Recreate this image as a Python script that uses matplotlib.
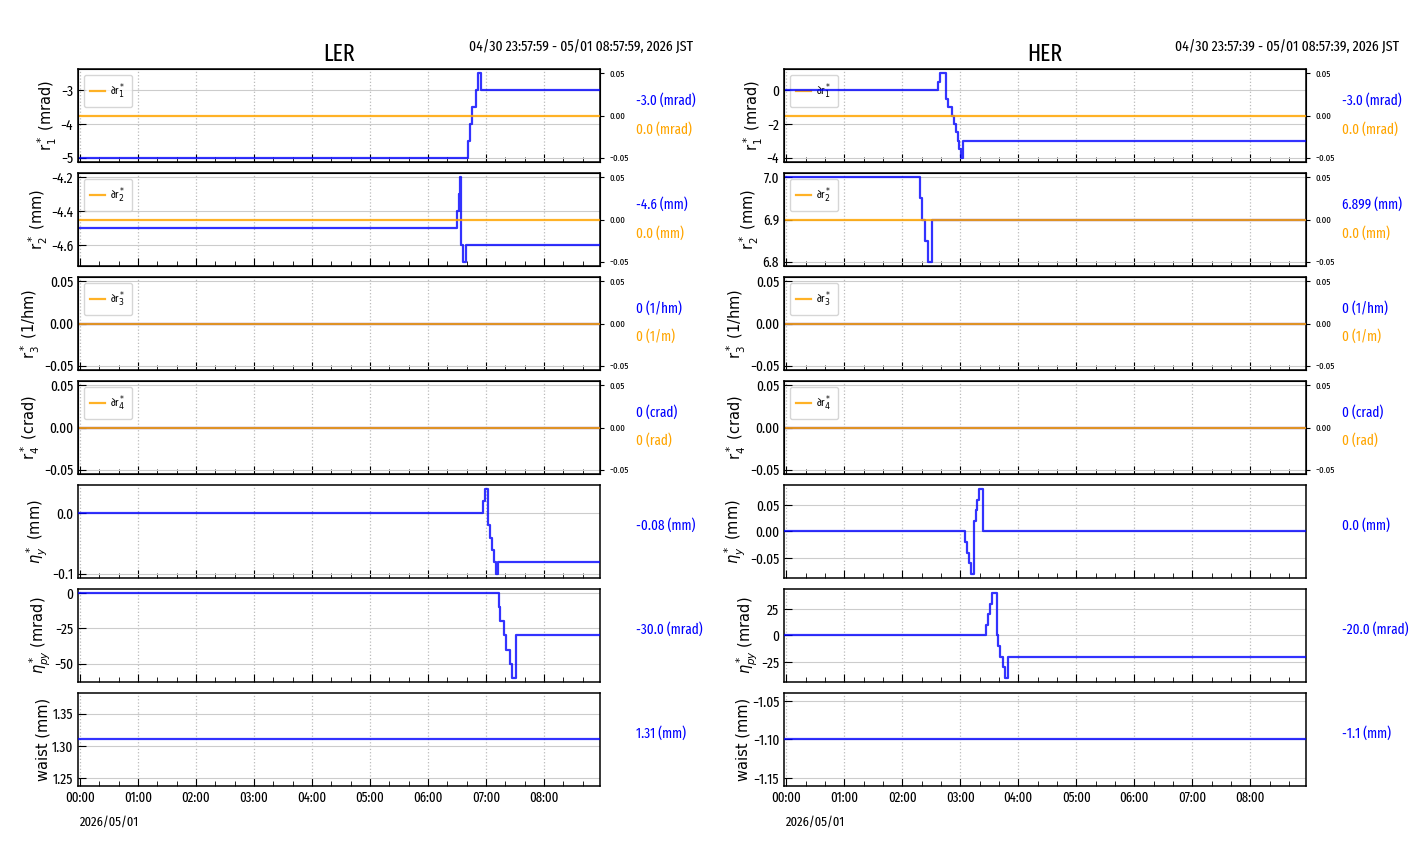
"""LER / HER tuning knob history (r1*-r4*, eta_y*, eta_py*, waist) – 9 h window."""

import pandas as pd
import matplotlib
matplotlib.use("Agg")
import matplotlib.pyplot as plt
import matplotlib.dates as mdates
from matplotlib.ticker import MaxNLocator

# the source image is horizontally squeezed, so a condensed face fits best
plt.rcParams["font.family"] = ["Fira Sans Extra Condensed", "DejaVu Sans"]
plt.rcParams["axes.unicode_minus"] = True

DAY = pd.Timestamp("2026-05-01 00:00:00")

# ---- time windows -----------------------------------------------------------
LER_START, LER_END = "2026-04-30 23:57:59", "2026-05-01 08:57:59"
HER_START, HER_END = "2026-04-30 23:57:39", "2026-05-01 08:57:39"
LER_RANGE_TEXT = "04/30 23:57:59 - 05/01 08:57:59, 2026 JST"
HER_RANGE_TEXT = "04/30 23:57:39 - 05/01 08:57:39, 2026 JST"

# ---- LER: change times (hours after 05/01 00:00), values (first = initial) ----
LER_R1_T = [6.69, 6.72, 6.76, 6.82, 6.86, 6.91]
LER_R1_V = [-5.0, -4.5, -4.0, -3.5, -3.0, -2.5, -3.0]
LER_R2_T = [6.50, 6.53, 6.55, 6.57, 6.60, 6.66]
LER_R2_V = [-4.5, -4.4, -4.3, -4.2, -4.6, -4.7, -4.6]
LER_R3_T = []
LER_R3_V = [0.0]
LER_R4_T = []
LER_R4_V = [0.0]
LER_ETA_T = [6.955, 6.99, 7.03, 7.064, 7.10, 7.14, 7.18, 7.20]
LER_ETA_V = [0.0, 0.02, 0.04, -0.02, -0.04, -0.06, -0.08, -0.10, -0.08]
LER_ETAP_T = [7.22, 7.25, 7.31, 7.35, 7.41, 7.45, 7.51]
LER_ETAP_V = [0.0, -10.0, -20.0, -30.0, -40.0, -50.0, -60.0, -30.0]
LER_WAIST_T = []
LER_WAIST_V = [1.31]

# ---- HER ------------------------------------------------------------------
HER_R1_T = [2.615, 2.65, 2.75, 2.79, 2.85, 2.89, 2.93, 2.96, 2.98, 3.01, 3.04]
HER_R1_V = [0.0, 0.5, 1.0, -0.5, -1.0, -1.5, -2.0, -2.5, -3.0, -3.5, -4.0, -3.0]
HER_R2_T = [2.31, 2.345, 2.40, 2.44, 2.52]
HER_R2_V = [7.0, 6.95, 6.9, 6.85, 6.8, 6.899]
HER_R3_T = []
HER_R3_V = [0.0]
HER_R4_T = []
HER_R4_V = [0.0]
HER_ETA_T = [3.08, 3.12, 3.155, 3.185, 3.23, 3.265, 3.29, 3.33, 3.40]
HER_ETA_V = [0.0, -0.02, -0.04, -0.06, -0.08, 0.02, 0.04, 0.06, 0.08, 0.0]
HER_ETAP_T = [3.443, 3.478, 3.51, 3.547, 3.638, 3.655, 3.684, 3.73, 3.77, 3.817]
HER_ETAP_V = [0.0, 10.0, 20.0, 30.0, 40.0, 0.0, -10.0, -20.0, -30.0, -40.0, -20.0]
HER_WAIST_T = []
HER_WAIST_V = [-1.1]

# delta (orange, right axis) for r1..r4 – flat zero in this window
DELTA_V = [0.0, 0.0, 0.0, 0.0]

YLABELS = [r"r$_1^*$ (mrad)", r"r$_2^*$ (mm)", r"r$_3^*$ (1/hm)", r"r$_4^*$ (crad)",
           r"$\eta_y^*$ (mm)", r"$\eta_{py}^*$ (mrad)", "waist (mm)"]
DELTA_LABELS = [r"∂r$_1^*$", r"∂r$_2^*$", r"∂r$_3^*$", r"∂r$_4^*$"]

LER_VALUE_TEXT = ["-3.0 (mrad)", "-4.6 (mm)", "0 (1/hm)", "0 (crad)",
                  "-0.08 (mm)", "-30.0 (mrad)", "1.31 (mm)"]
HER_VALUE_TEXT = ["-3.0 (mrad)", "6.899 (mm)", "0 (1/hm)", "0 (crad)",
                  "0.0 (mm)", "-20.0 (mrad)", "-1.1 (mm)"]
DELTA_TEXT = ["0.0 (mrad)", "0.0 (mm)", "0 (1/m)", "0 (rad)"]

BLUE = "blue"
ORANGE = "orange"
LOC = dict(nbins=3, steps=[1, 2, 2.5, 5, 10])


def step_series(t_change, values, start, end):
    t0, t1 = pd.Timestamp(start), pd.Timestamp(end)
    times = [t0] + [DAY + pd.to_timedelta(h, unit="h") for h in t_change] + [t1]
    vals = list(values) + [values[-1]]
    return times, vals


def draw_ring(name, left, right, start, end, range_text, series, value_text):
    W, H = 1412.0, 864.0
    gs = fig.add_gridspec(7, 1, left=left / W, right=right / W,
                          top=1 - 69 / H, bottom=1 - 786 / H, hspace=0.118)
    axes = []
    for i in range(7):
        ax = fig.add_subplot(gs[i], sharex=axes[0] if axes else None)
        axes.append(ax)
        t_change, vals = series[i]
        t, v = step_series(t_change, vals, start, end)
        ax.plot(t, v, drawstyle="steps-post", color=BLUE, lw=1.6, alpha=0.8, zorder=6)
        ax.yaxis.set_major_locator(MaxNLocator(**LOC))
        ax.grid(axis="y", color="#cccccc", ls="-", lw=0.8)
        ax.grid(axis="x", which="major", color="#bbbbbb", ls=":", lw=0.9)
        ax.tick_params(axis="both", which="both", direction="in", labelsize=10.5)
        ax.tick_params(axis="x", labelsize=10)
        ax.tick_params(which="major", length=6)
        ax.tick_params(which="minor", length=3.5)
        ax.set_ylabel(YLABELS[i], fontsize=10.5, family="DejaVu Sans", labelpad=1)
        for s in ax.spines.values():
            s.set_linewidth(1.1)

        if i < 4:
            ax2 = ax.twinx()
            td, vd = step_series([], [DELTA_V[i]], start, end)
            ax2.plot(td, vd, drawstyle="steps-post", color=ORANGE, lw=1.6, alpha=0.85,
                     label=DELTA_LABELS[i])
            ax2.yaxis.set_major_locator(MaxNLocator(**LOC))
            ax2.tick_params(axis="y", labelsize=7, length=3, direction="out")
            h, l = ax2.get_legend_handles_labels()
            ax.legend(h, l, loc="upper left", fontsize=8, handlelength=1.3,
                      handletextpad=0.5, borderpad=0.6)
            ax.text(1.069, 0.66, value_text[i], color=BLUE, fontsize=10.3,
                    ha="left", va="center", transform=ax.transAxes)
            ax.text(1.069, 0.355, DELTA_TEXT[i], color=ORANGE, fontsize=10.3,
                    ha="left", va="center", transform=ax.transAxes)
        else:
            ax.text(1.069, 0.56, value_text[i], color=BLUE, fontsize=10.3,
                    ha="left", va="center", transform=ax.transAxes)

        if i < 6:
            ax.tick_params(axis="x", labelbottom=False)

    ax0 = axes[0]
    ax0.set_xlim(pd.Timestamp(start), pd.Timestamp(end))
    ax0.xaxis.set_major_locator(mdates.HourLocator())
    ax0.xaxis.set_minor_locator(mdates.MinuteLocator(byminute=[20, 40]))
    ax0.xaxis.set_major_formatter(mdates.DateFormatter("%H:%M"))
    ax0.set_title(name, fontsize=17)
    ax0.text(1.178, 1.245, range_text, fontsize=10.8, ha="right", va="center",
             transform=ax0.transAxes)
    axes[-1].text(0.004, -0.387, "2026/05/01", fontsize=9.8, ha="left", va="center",
                  transform=axes[-1].transAxes)
    return axes


fig = plt.figure(figsize=(14.12, 8.64), dpi=100)

ler_series = [(LER_R1_T, LER_R1_V), (LER_R2_T, LER_R2_V), (LER_R3_T, LER_R3_V),
              (LER_R4_T, LER_R4_V), (LER_ETA_T, LER_ETA_V), (LER_ETAP_T, LER_ETAP_V),
              (LER_WAIST_T, LER_WAIST_V)]
her_series = [(HER_R1_T, HER_R1_V), (HER_R2_T, HER_R2_V), (HER_R3_T, HER_R3_V),
              (HER_R4_T, HER_R4_V), (HER_ETA_T, HER_ETA_V), (HER_ETAP_T, HER_ETAP_V),
              (HER_WAIST_T, HER_WAIST_V)]

draw_ring("LER", 78, 600, LER_START, LER_END, LER_RANGE_TEXT, ler_series, LER_VALUE_TEXT)
draw_ring("HER", 784, 1306, HER_START, HER_END, HER_RANGE_TEXT, her_series, HER_VALUE_TEXT)

fig.savefig("out.png", dpi=100)
